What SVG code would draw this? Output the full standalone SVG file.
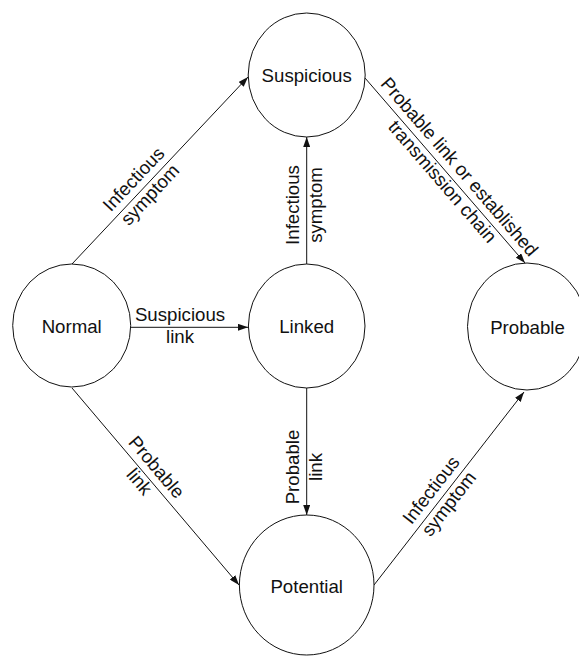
<svg xmlns="http://www.w3.org/2000/svg" width="579" height="656" viewBox="0 0 579 656">
<style>
.node{fill:#fff;stroke:#111;stroke-width:1}
.nt{font-family:"Liberation Sans",Arial,sans-serif;font-size:18.67px;fill:#111;text-anchor:middle}
.edge{fill:none;stroke:#111;stroke-width:1;marker-end:url(#arr)}
.lt{font-family:"Liberation Sans",Arial,sans-serif;font-size:18.67px;fill:#111;text-anchor:middle}
</style>
<defs>
<marker id="arr" markerUnits="userSpaceOnUse" markerWidth="10" markerHeight="7" refX="10" refY="3.5" orient="auto">
<path d="M0,0 L10,3.5 L0,7 z" fill="#111"/>
</marker>
</defs>
<rect width="579" height="656" fill="#fff"/>
<g id="connectors">
<line class="edge" x1="72" y1="264" x2="248" y2="77"/>
<line class="edge" x1="130.7" y1="327.3" x2="248" y2="327.3"/>
<line class="edge" x1="72" y1="388" x2="239" y2="585"/>
<line class="edge" x1="306.7" y1="264" x2="306.7" y2="137"/>
<line class="edge" x1="306.7" y1="388" x2="306.7" y2="515"/>
<line class="edge" x1="374" y1="585" x2="524" y2="392"/>
<line class="edge" x1="365" y1="78" x2="525" y2="263"/>
<g transform="translate(143.3,188.3) rotate(-46.74)"><text class="lt"><tspan x="0" y="-7">Infectious</tspan><tspan x="0" y="15.5">symptom</tspan></text></g>
<g transform="translate(180,327.3)"><text class="lt"><tspan x="0" y="-6.6">Suspicious</tspan><tspan x="0" y="16">link</tspan></text></g>
<g transform="translate(146.4,475.7) rotate(49.7)"><text class="lt"><tspan x="0" y="-7">Probable</tspan><tspan x="0" y="15.5">link</tspan></text></g>
<g transform="translate(306.7,205) rotate(-90)"><text class="lt"><tspan x="0" y="-7.5">Infectious</tspan><tspan x="0" y="15">symptom</tspan></text></g>
<g transform="translate(306.7,467) rotate(-90)"><text class="lt"><tspan x="0" y="-7.5">Probable</tspan><tspan x="0" y="15">link</tspan></text></g>
<g transform="translate(441.5,498.1) rotate(-52.15)"><text class="lt"><tspan x="0" y="-7">Infectious</tspan><tspan x="0" y="15.5">symptom</tspan></text></g>
<g transform="translate(449.4,175.6) rotate(49.15)"><text class="lt"><tspan x="0" y="-7">Probable link or established</tspan><tspan x="0" y="15.5">transmission chain</tspan></text></g>
</g>
<g id="node-suspicious"><ellipse class="node" cx="306.7" cy="75" rx="58.5" ry="62"/><text class="nt" x="306.7" y="82">Suspicious</text></g>
<g id="node-normal"><ellipse class="node" cx="71.7" cy="325.5" rx="59" ry="61.5"/><text class="nt" x="71.7" y="332.7">Normal</text></g>
<g id="node-linked"><ellipse class="node" cx="306.7" cy="326" rx="58.3" ry="62"/><text class="nt" x="306.7" y="333">Linked</text></g>
<g id="node-probable"><ellipse class="node" cx="527" cy="326.5" rx="59.5" ry="63.5"/><text class="nt" x="527.5" y="333.5">Probable</text></g>
<g id="node-potential"><ellipse class="node" cx="306.7" cy="585" rx="67.3" ry="70"/><text class="nt" x="306.7" y="592.5">Potential</text></g>
</svg>
